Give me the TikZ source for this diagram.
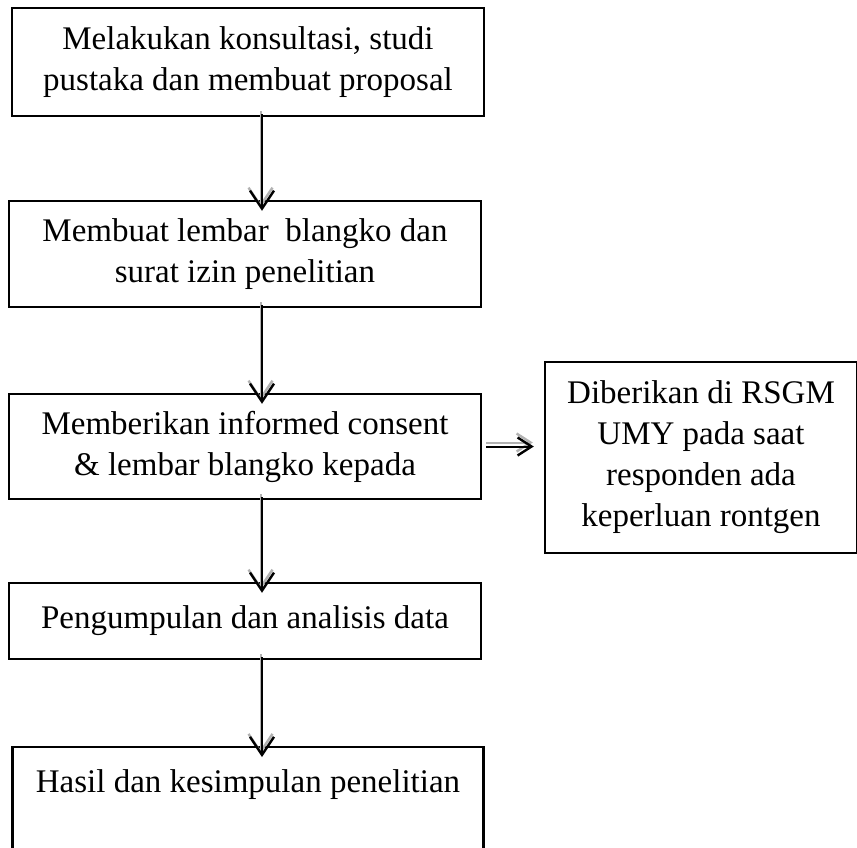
\documentclass[tikz,border=0pt]{standalone}
\usepackage{fontspec}
\setmainfont{Liberation Serif}
\usetikzlibrary{arrows.meta}
\begin{document}
\begin{tikzpicture}[x=1pt,y=-1pt,
  box/.style={draw=black, line width=2.4pt, inner sep=0pt, align=center,
    font=\fontsize{33}{41}\selectfont},
  flow/.style={line width=2pt, -{Straight Barb[length=18pt,width=24pt,line width=2.4pt]}},
  hflow/.style={line width=2pt, -{Straight Barb[length=14pt,width=18pt,line width=2.4pt]}},
  shadow/.style={flow, draw=gray!60},
  hshadow/.style={hflow, draw=gray!60}]
\useasboundingbox (0,0) rectangle (857,848);
\clip (0,0) rectangle (857,848);
\node[box, minimum width=472, minimum height=108] (b1) at (248,62)
  {Melakukan konsultasi, studi\\pustaka dan membuat proposal};
\node[box, minimum width=472, minimum height=106] (b2) at (245,254)
  {Membuat lembar\ \ blangko dan\\surat izin penelitian};
\node[box, minimum width=472, minimum height=105] (b3) at (245,446.5)
  {Memberikan informed consent\\\& lembar blangko kepada};
\node[box, minimum width=472, minimum height=76] (b4) at (245,621)
  {Pengumpulan dan analisis data};
\node[box, minimum width=471, anchor=north, text height=45, text depth=110] (b5) at (248,746)
  {Hasil dan kesimpulan penelitian};
\node[box, minimum width=312, minimum height=191] (s) at (701,457.5)
  {Diberikan di RSGM\\UMY pada saat\\responden ada\\keperluan rontgen};
\coordinate (ax) at (262,0);
\coordinate (a1s) at ([yshift=3]b1.south -| ax);
\coordinate (a1e) at ([yshift=-11]b2.north -| ax);
\coordinate (a2s) at ([yshift=3]b2.south -| ax);
\coordinate (a2e) at ([yshift=-11]b3.north -| ax);
\coordinate (a3s) at ([yshift=3]b3.south -| ax);
\coordinate (a3e) at ([yshift=-11]b4.north -| ax);
\coordinate (a4s) at ([yshift=3]b4.south -| ax);
\coordinate (a4e) at ([yshift=-11]b5.north -| ax);
\coordinate (hs) at ([xshift=4]b3.east);
\coordinate (he) at ([xshift=-10]b3.east -| s.west);
\foreach \p/\q in {a1s/a1e,a2s/a2e,a3s/a3e,a4s/a4e}{
  \draw[shadow] ([xshift=-1.5,yshift=3]\p) -- ([xshift=-1.5,yshift=3]\q);
  \draw[flow] (\p) -- (\q);
}
\draw[hshadow] ([yshift=4]hs) -- ([yshift=4,xshift=-1]he);
\draw[hflow] (hs) -- (he);
\end{tikzpicture}
\end{document}
